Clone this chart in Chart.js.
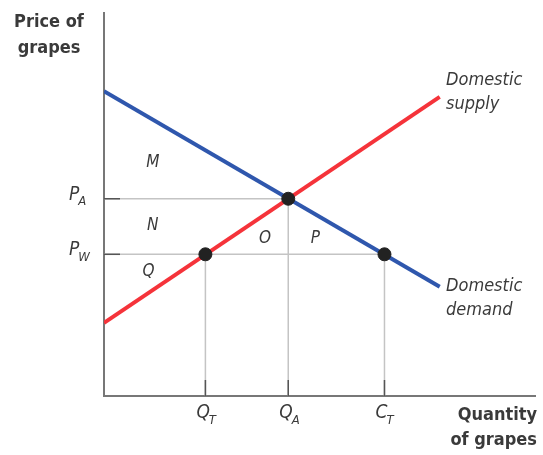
<!DOCTYPE html>
<html>
<head>
<meta charset="utf-8">
<script src="https://cdn.jsdelivr.net/npm/chart.js@4/dist/chart.umd.min.js"></script>
<style>
  body { margin: 0; background: #fff; }
  #wrap { width: 543px; height: 455px; }
</style>
</head>
<body>
<div id="wrap"><canvas id="myChart"></canvas></div>
<script>
// curves (x = quantity, y = price), axis range 0..100
const demandX = [0, 77.8];
const demandY = [79.6, 28.5];
const supplyX = [0, 77.8];
const supplyY = [19.1, 78.1];

// key prices and quantities
const priceLevels = [51.5, 37];            // P_A, P_W
const priceNames = [["P", "A"], ["P", "W"]];
const qtyLevels = [23.5, 42.7, 65];        // Q_T, Q_A, C_T
const qtyNames = [["Q", "T"], ["Q", "A"], ["C", "T"]];

// dots: (Q_T, P_W), (Q_A, P_A), (C_T, P_W)
const dotX = [23.5, 42.7, 65];
const dotY = [37, 51.5, 37];

// area labels
const areaNames = ["M", "N", "Q", "O", "P"];
const areaX = [11.3, 11.3, 10.3, 37.3, 49];
const areaY = [61, 44.5, 32.5, 41, 41];

const textColor = "#3a3a3a";
const font = "'DejaVu Sans Condensed', 'Liberation Sans Narrow', sans-serif";

function pts(xs, ys) {
    return xs.map((x, i) => ({ x: x, y: ys[i] }));
}

let guides = [];
guides.push({ data: [{ x: 0, y: priceLevels[0] }, { x: qtyLevels[1], y: priceLevels[0] }] });
guides.push({ data: [{ x: 0, y: priceLevels[1] }, { x: qtyLevels[2], y: priceLevels[1] }] });
guides.push({ data: [{ x: qtyLevels[0], y: 0 }, { x: qtyLevels[0], y: priceLevels[1] }] });
guides.push({ data: [{ x: qtyLevels[1], y: 0 }, { x: qtyLevels[1], y: priceLevels[0] }] });
guides.push({ data: [{ x: qtyLevels[2], y: 0 }, { x: qtyLevels[2], y: priceLevels[1] }] });
guides = guides.map(g => Object.assign(g, {
    borderColor: "#c4c4c4", borderWidth: 1.5, pointRadius: 0, order: 3
}));

function subLabel(ctx, name, x, y, size) {
    ctx.font = "italic " + size + "px " + font;
    const w = ctx.measureText(name[0]).width;
    ctx.textAlign = "left";
    ctx.fillText(name[0], x, y);
    ctx.font = "italic " + Math.round(size * 0.68) + "px " + font;
    ctx.fillText(name[1], x + w - 1, y + size * 0.38);
}

const labelsPlugin = {
    id: "labels",
    afterDraw(chart) {
        const ctx = chart.ctx;
        const xs = chart.scales.x, ys = chart.scales.y;
        const area = chart.chartArea;
        ctx.save();
        // short dark ticks next to the axes
        ctx.strokeStyle = "#555";
        ctx.lineWidth = 1.5;
        priceLevels.forEach(v => {
            const py = ys.getPixelForValue(v);
            ctx.beginPath(); ctx.moveTo(area.left, py); ctx.lineTo(area.left + 16, py); ctx.stroke();
        });
        qtyLevels.forEach(v => {
            const px = xs.getPixelForValue(v);
            ctx.beginPath(); ctx.moveTo(px, area.bottom); ctx.lineTo(px, area.bottom - 16); ctx.stroke();
        });

        ctx.fillStyle = textColor;
        ctx.textBaseline = "middle";
        priceLevels.forEach((v, i) => {
            subLabel(ctx, priceNames[i], 69, ys.getPixelForValue(v) - 4, 19);
        });
        qtyLevels.forEach((v, i) => {
            subLabel(ctx, qtyNames[i], xs.getPixelForValue(v) - 9, area.bottom + 17, 19);
        });

        ctx.font = "italic 17px " + font;
        ctx.textAlign = "center";
        areaNames.forEach((n, i) => {
            ctx.fillText(n, xs.getPixelForValue(areaX[i]), ys.getPixelForValue(areaY[i]));
        });

        ctx.font = "italic 18px " + font;
        ctx.textAlign = "left";
        ctx.fillText("Domestic", 446, 80);
        ctx.fillText("supply", 446, 104);
        ctx.fillText("Domestic", 446, 286);
        ctx.fillText("demand", 446, 310);

        ctx.font = "bold 18px " + font;
        ctx.textAlign = "center";
        ctx.fillText("Price of", 49, 22);
        ctx.fillText("grapes", 49, 48);
        ctx.textAlign = "right";
        ctx.fillText("Quantity", 537, 415);
        ctx.fillText("of grapes", 537, 440);
        ctx.restore();
    }
};

const chartContext = document.getElementById("myChart").getContext("2d");
const myChart = new Chart(chartContext, {
    type: "line",
    data: {
        datasets: [
            {
                label: "dots",
                data: pts(dotX, dotY),
                showLine: false,
                pointRadius: 6.5,
                pointBackgroundColor: "#222",
                pointBorderColor: "#222",
                order: 0,
            },
            {
                label: "Domestic demand",
                data: pts(demandX, demandY),
                borderColor: "#2f57ad",
                borderWidth: 4,
                pointRadius: 0,
                order: 1,
            },
            {
                label: "Domestic supply",
                data: pts(supplyX, supplyY),
                borderColor: "#f5333a",
                borderWidth: 4,
                pointRadius: 0,
                order: 2,
            },
            ...guides,
        ],
    },
    options: {
        responsive: true,
        maintainAspectRatio: false,
        animation: false,
        layout: { padding: { left: 104, top: 13, right: 6, bottom: 59 } },
        plugins: { legend: { display: false }, tooltip: { enabled: false } },
        scales: {
            x: {
                type: "linear", min: 0, max: 100,
                ticks: { display: false },
                grid: { display: false },
                border: { display: true, color: "#777", width: 2 },
                afterFit: (s) => { s.height = 0; },
            },
            y: {
                type: "linear", min: 0, max: 100,
                ticks: { display: false },
                grid: { display: false },
                border: { display: true, color: "#777", width: 2 },
                afterFit: (s) => { s.width = 0; },
            },
        },
    },
    plugins: [labelsPlugin],
});
</script>
</body>
</html>
